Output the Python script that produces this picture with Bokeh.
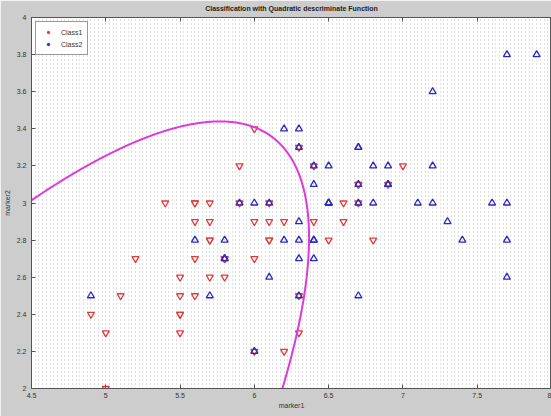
import numpy as np
from contourpy import contour_generator
from bokeh.plotting import figure
from bokeh.models import FixedTicker, LinearAxis, Legend, LegendItem, Range1d
from bokeh.embed import file_html
from bokeh.resources import INLINE

# Class 1 samples (marker1, marker2)
class1_x = [7.0, 6.4, 6.9, 5.5, 6.5, 5.7, 6.3, 4.9, 6.6, 5.2, 5.0, 5.9, 6.0, 6.1, 5.6, 6.7, 5.6,
            5.8, 6.2, 5.6, 5.9, 6.1, 6.3, 6.1, 6.4, 6.6, 6.8, 6.7, 6.0, 5.7, 5.5, 5.5, 5.8, 6.0,
            5.4, 6.0, 6.7, 6.3, 5.6, 5.5, 5.5, 6.1, 5.8, 5.0, 5.6, 5.7, 5.7, 6.2, 5.1, 5.7]
class1_y = [3.2, 3.2, 3.1, 2.3, 2.8, 2.8, 3.3, 2.4, 2.9, 2.7, 2.0, 3.0, 2.2, 2.9, 2.9, 3.1, 3.0,
            2.7, 2.2, 2.5, 3.2, 2.8, 2.5, 2.8, 2.9, 3.0, 2.8, 3.0, 2.9, 2.6, 2.4, 2.4, 2.7, 2.7,
            3.0, 3.4, 3.1, 2.3, 3.0, 2.5, 2.6, 3.0, 2.6, 2.3, 2.7, 3.0, 2.9, 2.9, 2.5, 2.8]

# Class 2 samples (marker1, marker2)
class2_x = [6.3, 5.8, 7.1, 6.3, 6.5, 7.6, 4.9, 7.3, 6.7, 7.2, 6.5, 6.4, 6.8, 5.7, 5.8, 6.4, 6.5,
            7.7, 7.7, 6.0, 6.9, 5.6, 7.7, 6.3, 6.7, 7.2, 6.2, 6.1, 6.4, 7.2, 7.4, 7.9, 6.4, 6.3,
            6.1, 7.7, 6.3, 6.4, 6.0, 6.9, 6.7, 6.9, 5.8, 6.8, 6.7, 6.7, 6.3, 6.5, 6.2, 5.9]
class2_y = [3.3, 2.7, 3.0, 2.9, 3.0, 3.0, 2.5, 2.9, 2.5, 3.6, 3.2, 2.7, 3.0, 2.5, 2.8, 3.2, 3.0,
            3.8, 2.6, 2.2, 3.2, 2.8, 2.8, 2.7, 3.3, 3.2, 2.8, 3.0, 2.8, 3.0, 2.8, 3.8, 2.8, 2.8,
            2.6, 3.0, 3.4, 3.1, 3.0, 3.1, 3.1, 3.1, 2.7, 3.2, 3.3, 3.0, 2.5, 3.0, 3.4, 3.0]

x_ticks = [4.5, 5.0, 5.5, 6.0, 6.5, 7.0, 7.5, 8.0]
x_tick_labels = ["4.5", "5", "5.5", "6", "6.5", "7", "7.5", "8"]
y_ticks = [2.0, 2.2, 2.4, 2.6, 2.8, 3.0, 3.2, 3.4, 3.6, 3.8, 4.0]
y_tick_labels = ["2", "2.2", "2.4", "2.6", "2.8", "3", "3.2", "3.4", "3.6", "3.8", "4"]

FONT = "Liberation Sans"
RED = "#e23a3a"
BLUE = "#2a2ac0"
MAGENTA = "#dc3adc"


def qda_score(gx, gy, xs, ys):
    """Quadratic discriminant score (equal priors) of one class on a grid."""
    d = np.column_stack([xs, ys])
    mu = d.mean(axis=0)
    cov = np.cov(d, rowvar=False)
    inv = np.linalg.inv(cov)
    dx = gx - mu[0]
    dy = gy - mu[1]
    maha = inv[0, 0] * dx * dx + 2 * inv[0, 1] * dx * dy + inv[1, 1] * dy * dy
    return -0.5 * (maha + np.log(np.linalg.det(cov)))


# Decision boundary: where both class scores are equal
gx, gy = np.meshgrid(np.linspace(4.3, 8.2, 500), np.linspace(1.8, 4.2, 400))
score = qda_score(gx, gy, class1_x, class1_y) - qda_score(gx, gy, class2_x, class2_y)
lines = contour_generator(gx, gy, score, line_type="Separate").lines(0.0)
bound_xs = [ln[:, 0].tolist() for ln in lines]
bound_ys = [ln[:, 1].tolist() for ln in lines]

p = figure(width=551, height=416, x_range=Range1d(4.5, 8.0), y_range=Range1d(2.0, 4.0),
           output_backend="svg", toolbar_location=None,
           min_border_left=31, min_border_right=0, min_border_top=17, min_border_bottom=28,
           background_fill_color="white", border_fill_color="#cdcdcd")

p.outline_line_color = "#555555"
p.outline_line_width = 1

# Title
p.title.text = "Classification with Quadratic descriminate Function"
p.title.align = "center"
p.title.vertical_align = "top"
p.title.text_font = FONT
p.title.text_font_size = "7px"
p.title.text_font_style = "bold"
p.title.text_color = "#222222"
p.title.standoff = 8

# Bottom / left axes
for ax, ticks, labels in ((p.xaxis[0], x_ticks, x_tick_labels), (p.yaxis[0], y_ticks, y_tick_labels)):
    ax.ticker = FixedTicker(ticks=ticks)
    ax.major_label_overrides = dict(zip(ticks, labels))
    ax.major_tick_in = 4
    ax.major_tick_out = 0
    ax.minor_tick_line_color = None
    ax.axis_line_color = "#555555"
    ax.major_tick_line_color = "#555555"
    ax.major_label_text_font = FONT
    ax.major_label_text_font_size = "7px"
    ax.major_label_text_color = "#333333"
    ax.axis_label_text_font = FONT
    ax.axis_label_text_font_size = "7px"
    ax.axis_label_text_font_style = "normal"
    ax.axis_label_text_color = "#333333"

p.xaxis.axis_label = "marker1"
p.yaxis.axis_label = "marker2"
p.xaxis.major_label_standoff = 4
p.xaxis.axis_label_standoff = 1
p.yaxis.major_label_standoff = 5
p.yaxis.axis_label_standoff = 3

# Top axis: tick marks only, labels not painted
top = LinearAxis(ticker=FixedTicker(ticks=x_ticks), major_tick_in=4, major_tick_out=0,
                 minor_tick_line_color=None, axis_line_color="#555555",
                 major_tick_line_color="#555555", major_label_text_color=None,
                 major_label_text_font_size="1px", major_label_standoff=0)
p.add_layout(top, "above")

# Dotted background lattice
p.ygrid.visible = False
p.xgrid.ticker = FixedTicker(ticks=np.round(np.arange(4.5, 8.0001, 0.025), 3).tolist())
p.xgrid.grid_line_color = "#c2c2c2"
p.xgrid.grid_line_dash = "1 3"
p.xgrid.grid_line_width = 1

# Samples
p.scatter(class1_x, class1_y, marker="inverted_triangle", size=7, line_color=RED,
          fill_color="white", fill_alpha=0.6, line_width=1.3)
p.scatter(class2_x, class2_y, marker="triangle", size=7, line_color=BLUE,
          fill_color=None, line_width=1.3)

# Decision boundary
p.multi_line(bound_xs, bound_ys, line_color=MAGENTA, line_width=2)

# Legend keys: small dots per class (only shown in the legend)
k1 = p.scatter(class1_x, class1_y, marker="circle", size=3, color=RED, visible=False)
k2 = p.scatter(class2_x, class2_y, marker="circle", size=3, color=BLUE, visible=False)
legend = Legend(items=[LegendItem(label="Class1", renderers=[k1], index=0),
                       LegendItem(label="Class2", renderers=[k2], index=0)],
                location="top_left", margin=4, padding=5, spacing=2,
                glyph_width=14, glyph_height=6, label_height=10, label_standoff=6,
                label_text_font=FONT, label_text_font_size="7px", label_text_color="#333333",
                border_line_color="#333333", border_line_width=1,
                background_fill_color="white", background_fill_alpha=1.0)
p.add_layout(legend)

open("out.html", "w").write(file_html(p, INLINE))
